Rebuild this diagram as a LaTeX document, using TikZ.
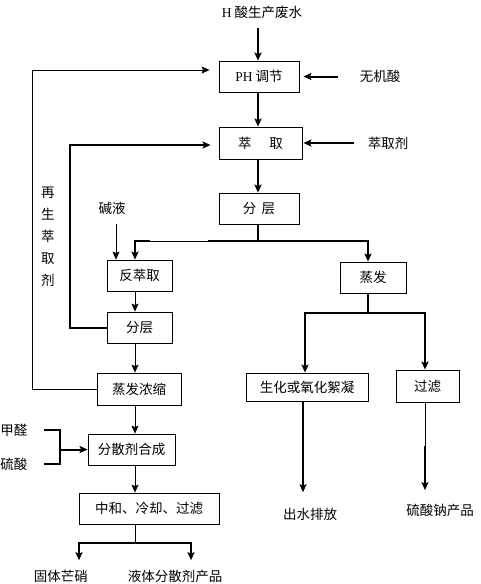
\documentclass[tikz,border=0pt]{standalone}
\usepackage{fontspec}
\newfontfamily\cjk{Noto Sans CJK SC}
\newfontfamily\lat{Liberation Serif}
\usetikzlibrary{arrows.meta,positioning}

\begin{document}
\begin{tikzpicture}[x=1pt, y=-1pt, >={Stealth[length=8pt,width=7pt,inset=1.5pt]},
  font=\cjk\fontsize{13.5}{15}\selectfont,
  box/.style={draw, line width=0.8pt, inner sep=0pt},
  thn/.style={line width=0.8pt},
  thk/.style={line width=2pt}]
  \useasboundingbox (0,0) rectangle (480,584);
  % column coordinates
  \coordinate (mx) at (258,0);
  \coordinate (vx) at (135,0);
  \coordinate (jyx) at (116,0);
  \coordinate (zx) at (368,0);
  \coordinate (shx) at (305,0);
  \coordinate (glx) at (425,0);
  \coordinate (d1) at (79,0);
  \coordinate (d2) at (191,0);
  % process boxes
  \node[box, minimum width=80pt, minimum height=31pt] (ph) at (259,76.5) {{\lat PH} 调节};
  \node[box, minimum width=83pt, minimum height=32pt] (cq) at (260.5,143) {萃\hspace{1.3em}取};
  \node[box, minimum width=80pt, minimum height=31pt] (fc1) at (259,208.5) {分\hspace{0.4em}层};
  \node[box, minimum width=65pt, minimum height=31pt] (fcq) at (139.5,275.5) {反萃取};
  \node[box, minimum width=66pt, minimum height=31pt] (zf) at (373,277.5) {蒸发};
  \node[box, minimum width=65pt, minimum height=31pt] (fc2) at (139.5,327.5) {分层};
  \node[box, minimum width=84pt, minimum height=32pt] (zfns) at (139,389) {蒸发浓缩};
  \node[box, minimum width=122pt, minimum height=28pt] (sh) at (307,387) {生化或氧化絮凝};
  \node[box, minimum width=63pt, minimum height=32pt] (gl) at (427.5,386) {过滤};
  \node[box, minimum width=87pt, minimum height=31pt] (fs) at (131.5,449.5) {分散剂合成};
  \node[box, minimum width=140pt, minimum height=31pt] (zh) at (149,508.5) {中和、冷却、过滤};
  % labels
  \node (src) at (262,12) {{\lat H} 酸生产废水};
  \node (wjs) at (380,76.5) {无机酸};
  \node (cqj) at (388,143) {萃取剂};
  \node[align=center, font=\cjk\fontsize{13.5}{22}\selectfont] (zs) at (48,237) {再\\生\\萃\\取\\剂};
  \node (jy) at (112,208) {碱液};
  \node (jq) at (14,430) {甲醛};
  \node (ls) at (14,464) {硫酸};
  \node (cs) at (310,514) {出水排放};
  \node (lsn) at (440,510) {硫酸钠产品};
  \node (gt) at (61,576) {固体芒硝};
  \node (yt) at (175,576) {液体分散剂产品};
  % main column
  \draw[thk,->] ([yshift=-6pt]src.south -| mx) -- (ph.north -| mx);
  \draw[thk,->] (ph.south -| mx) -- (cq.north -| mx);
  \draw[thk,->] (cq.south -| mx) -- (fc1.north -| mx);
  \draw[thk,->] ([xshift=-18pt]wjs.west) -- ([xshift=4pt]ph.east);
  \draw[thk,->] ([xshift=-10pt]cqj.west) -- ([xshift=1pt]cq.east);
  % recycle loops
  \coordinate (loopA) at (32,70);
  \draw[thn,->] (zfns.west) -| (loopA) -- ([xshift=-9pt]loopA -| ph.west);
  \coordinate (loopB) at (70,145);
  \draw[thk,->] (fc2.west) -| (loopB) -- ([xshift=-8pt]loopB -| cq.west);
  % first split
  \coordinate (s1) at (258,241);
  \coordinate (k1) at (150,241);
  \coordinate (k2) at (208,241);
  \draw[thk] (fc1.south -| mx) -- (s1) -- (k2);
  \draw[thn] (k2) -- (k1);
  \draw[thk,->] (k1) -| (fcq.north -| vx);
  \draw[thk,->] (s1) -| (zf.north -| zx);
  \draw[thn,->] ([yshift=-6pt]jy.south -| jyx) -- (fcq.north -| jyx);
  % left column
  \draw[thn,->] (fcq.south -| vx) -- (fc2.north -| vx);
  \draw[thn,->] (fc2.south -| vx) -- (zfns.north -| vx);
  \draw[thn,->] (zfns.south -| vx) -- (fs.north -| vx);
  \draw[thn,->] (fs.south -| vx) -- (zh.north -| vx);
  % reagents
  \coordinate (br) at (60,449.5);
  \draw[thk] ([xshift=13pt]jq.east) -| (br);
  \draw[thk] ([xshift=13pt]ls.east) -| (br);
  \draw[thk,->] (br) -- (fs.west);
  % second split
  \coordinate (s2) at (368,313);
  \draw[thk] (zf.south -| zx) -- (s2);
  \draw[thk,->] (s2) -| (sh.north -| shx);
  \draw[thk,->] (s2) -| (gl.north -| glx);
  \draw[thk,->] (sh.south -| 303,0) -- ([yshift=12pt]cs.north -| 303,0);
  \coordinate (gk) at (425,446);
  \draw[thn] (gl.south -| glx) -- (gk);
  \draw[thk,->] (gk) -- ([yshift=10pt]lsn.north -| glx);
  % products
  \coordinate (s3) at (135,543);
  \draw[thn] (zh.south -| vx) -- (s3);
  \draw[thk,->] (s3) -| ([yshift=6pt]gt.north -| d1);
  \draw[thk,->] (s3) -| ([yshift=6pt]yt.north -| d2);
\end{tikzpicture}
\end{document}
